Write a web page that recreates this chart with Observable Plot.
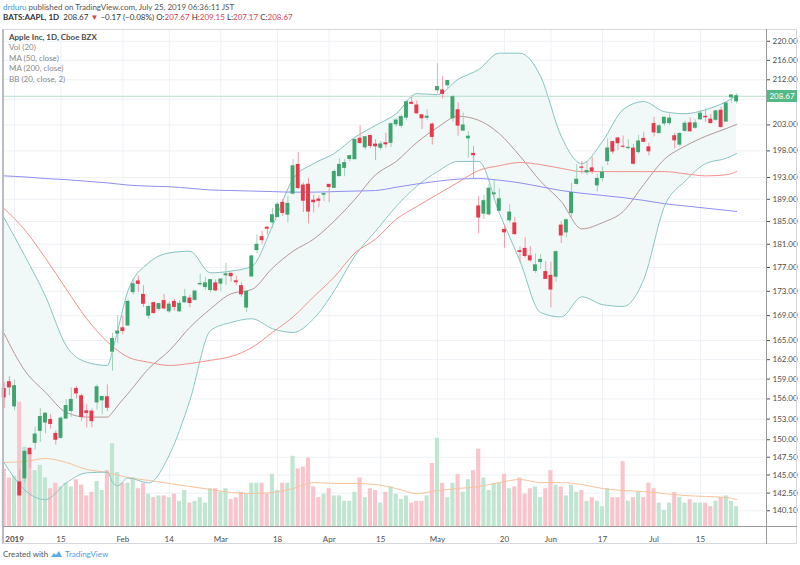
<!DOCTYPE html>
<html><head><meta charset="utf-8">
<script src="https://cdn.jsdelivr.net/npm/d3@7"></script>
<script src="https://cdn.jsdelivr.net/npm/@observablehq/plot@0.6"></script>
<style>
body{margin:0;background:#fff;font-family:Lato,"Liberation Sans",sans-serif;}
#wrap{position:relative;width:800px;height:565px;overflow:hidden;background:#fff;}
.layer{position:absolute;left:0;top:0;}
.t{position:absolute;white-space:nowrap;font-size:8px;line-height:10px;color:#555;}
.ln{position:absolute;}
</style></head><body><div id="wrap"></div>
<script>
// ---------- DATA (AAPL daily, Dec 28 2018 .. Jul 24 2019; index 0 = Dec 28) ----------
const opens = [157.50,158.53,154.89,143.98,144.53,148.70,149.56,151.29,152.50,152.88,
150.85,150.27,153.08,154.20,157.50,156.41,154.15,154.11,155.48,155.79,
156.25,163.25,166.11,166.96,167.41,172.86,174.65,172.40,168.99,171.05,
170.10,171.39,169.71,171.25,169.71,171.19,171.80,171.58,174.16,173.71,
173.21,174.32,174.28,175.69,175.94,174.67,173.87,170.32,175.49,180.00,
182.25,183.90,184.85,185.80,188.35,186.23,190.02,195.34,191.51,191.66,
188.75,188.95,189.83,191.64,191.09,193.25,194.79,196.45,196.42,200.32,
198.68,200.85,199.20,198.58,199.46,199.54,203.12,202.83,204.43,207.36,
206.83,204.90,204.40,203.06,209.88,209.84,210.89,204.29,205.88,201.90,
200.40,197.42,187.71,186.41,186.27,189.91,186.93,183.52,185.22,184.66,
179.80,180.20,178.92,176.42,177.95,176.23,175.60,175.44,184.28,183.08,
186.51,191.81,194.86,193.95,194.70,191.55,192.90,196.05,199.68,200.37,
198.80,198.54,198.43,197.77,200.29,198.68,203.17,201.41,203.28,203.35,
200.81,199.20,201.85,203.31,202.45,204.09,204.59,204.05,204.00,205.79,
203.65,208.46,207.67];
const highs = [158.52,159.36,158.85,145.72,148.55,148.83,151.82,154.53,153.97,153.70,
151.27,153.39,155.88,157.66,157.88,156.73,155.14,154.48,158.13,156.33,
158.13,166.15,169.00,168.98,171.66,175.08,175.57,173.94,170.66,171.21,
171.00,172.48,171.26,171.70,171.44,173.32,172.37,173.00,175.87,175.30,
175.00,174.91,175.15,177.75,176.00,175.49,174.44,173.07,179.12,182.67,
183.30,184.10,187.33,188.39,188.99,189.49,196.33,197.69,191.98,192.88,
189.76,189.56,190.08,191.68,194.46,196.50,196.37,197.10,200.23,202.85,
200.74,201.00,200.14,199.85,201.37,203.38,204.15,204.94,207.75,208.48,
207.76,205.00,205.97,203.40,215.31,212.65,211.84,208.84,207.42,205.34,
201.68,198.85,189.48,189.70,191.75,192.47,190.90,184.35,188.00,185.71,
180.54,182.14,180.59,179.35,179.23,177.99,177.92,179.83,184.99,185.47,
191.92,195.37,196.00,195.97,196.79,193.59,194.96,200.29,199.88,200.61,
200.85,200.16,199.26,200.99,201.57,199.49,204.49,203.13,204.44,205.08,
201.40,201.51,203.73,204.39,204.00,205.87,206.11,205.09,205.88,206.50,
207.23,208.91,209.15];
const lows = [154.55,156.48,154.23,142.00,143.80,145.90,148.52,149.63,150.86,151.51,
149.22,150.05,153.00,153.26,155.98,152.62,151.70,151.74,154.32,153.66,
154.11,160.23,164.56,165.93,167.28,172.35,172.85,170.34,168.42,169.25,
169.70,169.92,169.38,169.75,169.49,170.99,170.30,171.38,173.95,173.17,
172.73,172.92,172.89,173.97,174.54,173.94,172.02,169.50,175.35,179.37,
180.92,182.56,183.74,185.79,185.92,184.73,189.81,190.78,186.60,184.58,
186.55,187.53,188.54,188.38,191.05,193.15,193.14,195.93,196.34,199.23,
198.18,198.44,196.21,198.01,198.56,198.61,202.52,202.34,203.90,207.05,
205.12,202.12,203.86,199.11,209.23,208.13,210.23,203.50,200.83,201.75,
196.66,192.77,182.85,185.41,186.02,188.84,186.76,180.28,184.70,182.55,
177.81,178.62,177.91,176.00,176.67,174.99,170.27,174.52,181.14,182.15,
185.77,191.62,193.60,193.39,193.60,190.30,192.17,195.21,197.31,198.03,
198.50,198.17,195.29,197.35,199.57,197.05,200.65,201.36,202.69,202.90,
198.41,198.81,201.56,201.71,202.20,204.00,203.50,203.27,203.70,202.36,
203.61,207.29,207.17];
const closes = [156.23,157.74,157.92,142.19,148.26,147.93,150.75,153.31,153.80,152.29,
150.00,153.07,154.94,155.86,156.82,153.30,153.92,152.70,157.76,156.30,
154.68,165.25,166.44,166.52,171.25,174.18,174.24,170.94,170.41,169.43,
170.89,170.18,170.80,170.42,170.93,172.03,171.06,172.97,174.23,174.33,
174.87,173.15,174.97,175.85,175.53,174.52,172.50,172.91,178.90,180.91,
181.71,183.73,186.12,188.02,186.53,188.16,195.09,191.05,188.74,186.79,
188.47,188.72,189.95,191.24,194.02,195.35,195.69,197.00,200.10,199.50,
200.62,198.95,198.87,199.23,199.25,203.13,203.86,204.53,207.48,207.16,
205.28,204.30,204.61,200.67,210.52,209.15,211.75,208.48,202.86,202.90,
200.72,197.18,185.72,188.66,190.92,190.08,189.00,183.09,186.60,182.78,
179.66,178.97,178.23,177.38,178.30,175.07,173.30,179.64,182.54,185.22,
190.15,192.58,194.81,194.19,194.15,192.74,193.89,198.45,197.87,199.46,
198.78,198.58,195.57,199.80,199.74,197.92,201.55,202.73,204.41,204.23,
200.02,201.24,203.23,201.75,203.30,205.21,204.50,203.35,205.66,202.59,
207.22,208.84,208.67];
// volume (relative units)
const volumes = [3.2,2.7,2.8,6.9,4.4,4.1,3.1,3.4,2.7,2.1, 2.4,2.2,2.4,2.2,2.6,2.3,1.7,1.9,2.5,2.0,
3.1,4.6,3.0,2.4,2.4,2.7,2.1,2.4,1.8,1.6, 1.7,1.7,1.6,1.8,1.4,2.0,1.3,1.4,1.6,1.3,
2.1,2.1,1.9,2.1,1.5,1.6,1.9,1.8,2.4,2.4, 2.4,1.8,2.9,2.0,2.4,2.4,3.9,3.2,3.3,3.8,
2.2,1.6,1.8,2.1,1.7,1.7,1.4,1.4,1.9,2.7, 1.6,2.1,2.0,1.3,1.9,2.2,1.8,1.5,1.7,1.3,
1.4,1.4,1.7,3.5,4.9,2.4,1.6,2.4,2.9,1.9, 2.6,3.1,4.3,2.7,2.0,2.4,2.4,2.9,2.1,2.2,
2.7,1.8,2.1,2.2,1.6,2.1,3.1,2.3,2.2,1.7, 2.3,1.9,2.0,1.4,1.6,1.4,1.1,2.1,1.6,1.6,
3.6,1.4,1.6,1.9,1.6,2.4,2.1,1.3,0.9,1.3, 1.9,1.6,1.3,1.5,1.3,1.3,1.3,1.1,1.4,1.6,
1.7,1.4,1.1];

// Bollinger Bands (20, 2)
const bbIdx   = [0,4,8,12,16,20,21,22,24,28,32,36,40,44,48,52,56,60,64,68,72,76,80,84,88,92,96,100,104,108,112,116,120,124,128,132,136,140,142];
const bbUpper = [185.6,179.0,172.2,164.2,161.6,161.1,163.4,166.6,173.1,177.8,179.5,179.8,176.1,176.4,177.2,184.2,192.7,195.6,197.5,200.6,202.9,205.2,209.2,209.0,212.1,214.1,217.5,217.5,212.7,200.8,195.6,199.8,206.0,207.6,205.6,205.2,206.0,207.6,208.8];
const bbLower = [146.7,142.9,141.6,143.9,145.3,145.4,144.0,143.5,144.6,143.9,147.8,155.8,166.6,167.9,168.5,166.9,166.3,168.5,173.1,179.0,183.3,187.7,191.4,194.1,196.0,196.0,186.5,178.1,169.5,168.8,172.1,170.8,170.5,175.0,187.7,192.3,195.6,196.6,197.5];
const bbBasis = [166.1,160.3,157.0,154.0,153.3,153.3,154.0,155.0,156.8,160.6,163.4,167.1,170.1,172.6,173.3,176.9,179.8,181.9,185.1,189.0,193.5,196.0,199.6,202.5,204.7,203.9,201.3,197.0,192.3,188.6,183.7,184.8,186.8,191.7,196.4,198.9,200.8,202.3,203.1];

// Moving averages
const maIdx = [0,4,8,12,16,20,24,28,32,36,40,44,48,52,56,60,64,68,72,76,80,84,88,92,96,100,104,108,112,116,120,124,128,132,136,140,142];
const ma50  = [187.3,183.5,178.6,173.4,168.5,164.8,162.4,161.6,161.1,161.4,161.9,162.5,163.9,166.3,168.8,172.1,175.4,179.5,181.9,185.4,187.7,189.9,192.1,194.3,195.2,195.8,195.4,194.7,194.1,194.1,194.1,194.1,194.1,193.7,193.3,193.5,194.1];
const ma200 = [193.3,193.1,192.8,192.6,192.3,192.0,191.6,191.4,191.3,191.0,190.7,190.6,190.5,190.4,190.3,190.3,190.4,190.5,190.6,191.2,191.8,192.3,192.7,192.8,192.5,192.0,191.3,190.6,190.1,189.7,189.3,188.8,188.2,187.8,187.4,187.0,186.8];
const volMA = [3.56,3.61,3.78,3.56,3.17,3.0,2.72,2.56,2.39,2.22,2.06,1.89,1.83,1.89,2.11,2.44,2.39,2.39,2.33,2.11,1.83,2.0,2.11,2.22,2.44,2.61,2.44,2.44,2.33,2.11,2.0,1.94,1.83,1.72,1.67,1.61,1.5];

// axes
const priceTicks = [220,216,212,203,198,193,189,185,181,177,173,169,165,162,159,156,153,150,147.5,145,142.5,140.1];
const gridTicks = [220,216,212,208,203,198,193,189,185,181,177,173,169,165,162,159,156,153,150,147.5,145,142.5,140.1];
const timeTickIdx = [2,11,23,32,42,53,63,73,84,97,106,116,126,135];
const timeTickLabels = ["2019","15","Feb","14","Mar","18","Apr","15","May","20","Jun","17","Jul","15"];
const lastClose = 208.67;

// ---------- build tables ----------
const candles = opens.map((o,i)=>({i, open:o, high:highs[i], low:lows[i], close:closes[i], vol:volumes[i]}));
const bands = bbIdx.map((i,k)=>({i, upper:bbUpper[k], lower:bbLower[k], basis:bbBasis[k]}));
const mas = maIdx.map((i,k)=>({i, ma50:ma50[k], ma200:ma200[k], vma:volMA[k]}));

const C = {
  upBody:"#3fa56f", downBody:"#e63a4c", upWick:"#9fd2b8", downWick:"#f09aa5",
  volUp:"#c0e6d2", volDown:"#f9c4cb", bbLine:"#86c5c2", bbFill:"#f0f8f8",
  basis:"#a67f7b", ma50:"#f3918b", ma200:"#8f8ff0", volMa:"#f7c39a",
  grid:"#eef1f6", priceLine:"#b7dfcb", label:"#53b987"
};

const W=800, H=565;
const M = {marginLeft:3, marginRight:34, marginTop:29, marginBottom:39};
const xDom = [-0.14, 147.8];
const yDom = [138.0, 222.5];
const isUp = d => d.close >= d.open;
const baseStyle = {background:"transparent", fontFamily:"Lato, 'Liberation Sans', sans-serif", fontSize:"8px", color:"#4e4e4e", overflow:"visible"};

const wrap = document.getElementById("wrap");

// Layer A: grid + band fill
const plotA = Plot.plot({
  width:W, height:H, ...M, style:baseStyle,
  x:{domain:xDom, axis:null}, y:{type:"log", domain:yDom, axis:null},
  marks:[
    Plot.ruleY(gridTicks, {stroke:C.grid, strokeWidth:1}),
    Plot.ruleX(timeTickIdx, {stroke:C.grid, strokeWidth:1}),
    Plot.areaY(bands, {x:"i", y1:"lower", y2:"upper", fill:C.bbFill, curve:"monotone-x"})
  ]
});
plotA.classList.add("layer"); wrap.appendChild(plotA);

// Layer B: volume
const plotB = Plot.plot({
  width:W, height:H, ...M, style:baseStyle,
  x:{domain:xDom, axis:null},
  y:{domain:[0,10], range:[526,346], axis:null},
  color:{type:"identity"},
  marks:[
    Plot.rectY(candles, {x1:d=>d.i-0.4, x2:d=>d.i+0.4, y:"vol", fill:d=>isUp(d)?C.volUp:C.volDown}),
    Plot.line(mas, {x:"i", y:"vma", stroke:C.volMa, strokeWidth:1, curve:"monotone-x"})
  ]
});
plotB.classList.add("layer"); wrap.appendChild(plotB);

// Layer C: indicators, candles, axes
const plotC = Plot.plot({
  width:W, height:H, ...M, style:baseStyle,
  color:{type:"identity"},
  x:{domain:xDom, axis:"bottom", ticks:timeTickIdx, tickFormat:i=>timeTickLabels[timeTickIdx.indexOf(i)], tickSize:0, tickPadding:10, label:null},
  y:{type:"log", domain:yDom, axis:"right", ticks:priceTicks, tickFormat:d=>d.toFixed(2), tickSize:3, tickPadding:3, label:null},
  marks:[
    Plot.line(bands, {x:"i", y:"upper", stroke:C.bbLine, strokeWidth:1, curve:"monotone-x"}),
    Plot.line(bands, {x:"i", y:"lower", stroke:C.bbLine, strokeWidth:1, curve:"monotone-x"}),
    Plot.line(bands, {x:"i", y:"basis", stroke:C.basis, strokeWidth:0.8, curve:"monotone-x"}),
    Plot.line(mas, {x:"i", y:"ma50", stroke:C.ma50, strokeWidth:1, curve:"monotone-x"}),
    Plot.line(mas, {x:"i", y:"ma200", stroke:C.ma200, strokeWidth:1, curve:"monotone-x"}),
    Plot.ruleY([lastClose], {stroke:C.priceLine, strokeWidth:1}),
    Plot.ruleX(candles, {x:"i", y1:"low", y2:"high", stroke:d=>isUp(d)?C.upWick:C.downWick, strokeWidth:1}),
    Plot.rect(candles, {x1:d=>d.i-0.38, x2:d=>d.i+0.38, y1:"open", y2:"close", insetTop:-0.5, insetBottom:-0.5, fill:d=>isUp(d)?C.upBody:C.downBody})
  ]
});
plotC.classList.add("layer"); wrap.appendChild(plotC);
plotC.querySelectorAll("text").forEach(t=>{ if (t.textContent==="2019") t.setAttribute("font-weight","bold"); });

// frame lines
function line(l,t,w,h,c){const d=document.createElement("div");d.className="ln";Object.assign(d.style,{left:l+"px",top:t+"px",width:w+"px",height:h+"px",background:c});wrap.appendChild(d);}
line(2,29,2,515,"#b9bcc4");
line(3,29,794,1,"#d6d8de");
line(796,29,1,515,"#d6d8de");
line(3,543,794,1,"#d6d8de");
line(766,29,1,515,"#9a9a9a");
line(3,526,794,1,"#9a9a9a");

// last price label
const yPx = plotC.scale("y").apply(lastClose);
const lab = document.createElement("div");
Object.assign(lab.style,{position:"absolute",left:"767px",top:(yPx-6)+"px",width:"30px",height:"12px",background:C.label,color:"#fff",fontSize:"8px",lineHeight:"12px",textAlign:"center",fontFamily:"Lato, sans-serif"});
lab.textContent = lastClose.toFixed(2);
wrap.appendChild(lab);

// texts
function txt(html,l,t,extra){const d=document.createElement("div");d.className="t";d.style.left=l+"px";d.style.top=t+"px";if(extra)Object.assign(d.style,extra);d.innerHTML=html;wrap.appendChild(d);return d;}
txt('<span style="color:#3d9de4">drduru</span> published on TradingView.com, July 25, 2019 06:36:11 JST',3,2);
const red='#d9434f';
txt('<b style="color:#333">BATS:AAPL, 1D</b>&nbsp; <span style="color:#333">208.67</span> <span style="color:'+red+'">▼</span> <span style="color:#333">−0.17 (−0.08%)</span> <span style="color:#333">O:</span><span style="color:'+red+'">207.67</span> <span style="color:#333">H:</span><span style="color:'+red+'">209.15</span> <span style="color:#333">L:</span><span style="color:'+red+'">207.17</span> <span style="color:#333">C:</span><span style="color:'+red+'">208.67</span>',3,12);
txt('Apple Inc, 1D, Cboe BZX',9,32,{color:"#4a4a4a",fontWeight:"bold"});
txt('Vol (20)',9,42,{color:"#8a8a8a"});
txt('MA (50, close)',9,52.5,{color:"#8a8a8a"});
txt('MA (200, close)',9,63,{color:"#8a8a8a"});
txt('BB (20, close, 2)',9,73.5,{color:"#8a8a8a"});
txt('Created with <svg width="13" height="8" viewBox="0 0 13 8" style="vertical-align:-1px"><path d="M1 7 L4 3 L6 5 L9 1 L12 7 Z" fill="#57aeea"/></svg> <span style="color:#4aa3e6">TradingView</span>',3,549,{color:"#555"});
</script></body></html>
